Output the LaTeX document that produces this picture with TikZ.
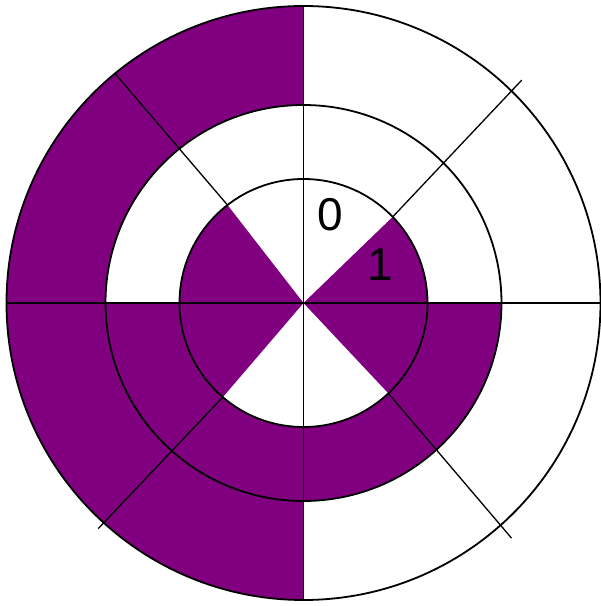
\documentclass[tikz,border=0pt]{standalone}
\usepackage{fontspec}
\setmainfont{Liberation Sans}
\definecolor{track}{RGB}{128,0,128}

\begin{document}
\begin{tikzpicture}[x=1pt,y=1pt,
  ring/.style={draw,line width=1.8pt},
  spoke/.style={line width=1.3pt},
  seg/.style={fill=track},
  lbl/.style={font=\fontsize{46}{46}\selectfont,inner sep=0pt}]
\useasboundingbox (-303.5,-303) rectangle (297.5,303);

% outer track: left half
\fill[seg] (0,0) -- (90:297) arc[start angle=90,end angle=270,radius=297] -- cycle;
\fill[white] (0,0) circle[radius=198];
% middle track: lower half
\fill[seg] (0,0) -- (180:198) arc[start angle=180,end angle=360,radius=198] -- cycle;
\fill[white] (0,0) circle[radius=124];
% inner track: two wedges (hand drawn, not quite square)
\foreach \a/\b in {-46.8/44,127.8/229.4}
  \fill[seg] (0,0) -- (\a:124) arc[start angle=\a,end angle=\b,radius=124] -- cycle;

\foreach \r in {297,198,124} \draw[ring] (0,0) circle[radius=\r];
\draw[spoke] (-297,0) -- (297,0);
\draw[spoke] (0,297) -- (0,-297);
\foreach \a/\b/\l in {44/45.6/312,127.8/129.4/297,229.4/227.7/305,-46.8/-48.5/314}
  \draw[spoke] (\a:124) -- (\b:\l);

\node[lbl] (zero) at (26.5,88) {0};
\node[lbl] (one)  at (76.5,38) {1};
\end{tikzpicture}
\end{document}
